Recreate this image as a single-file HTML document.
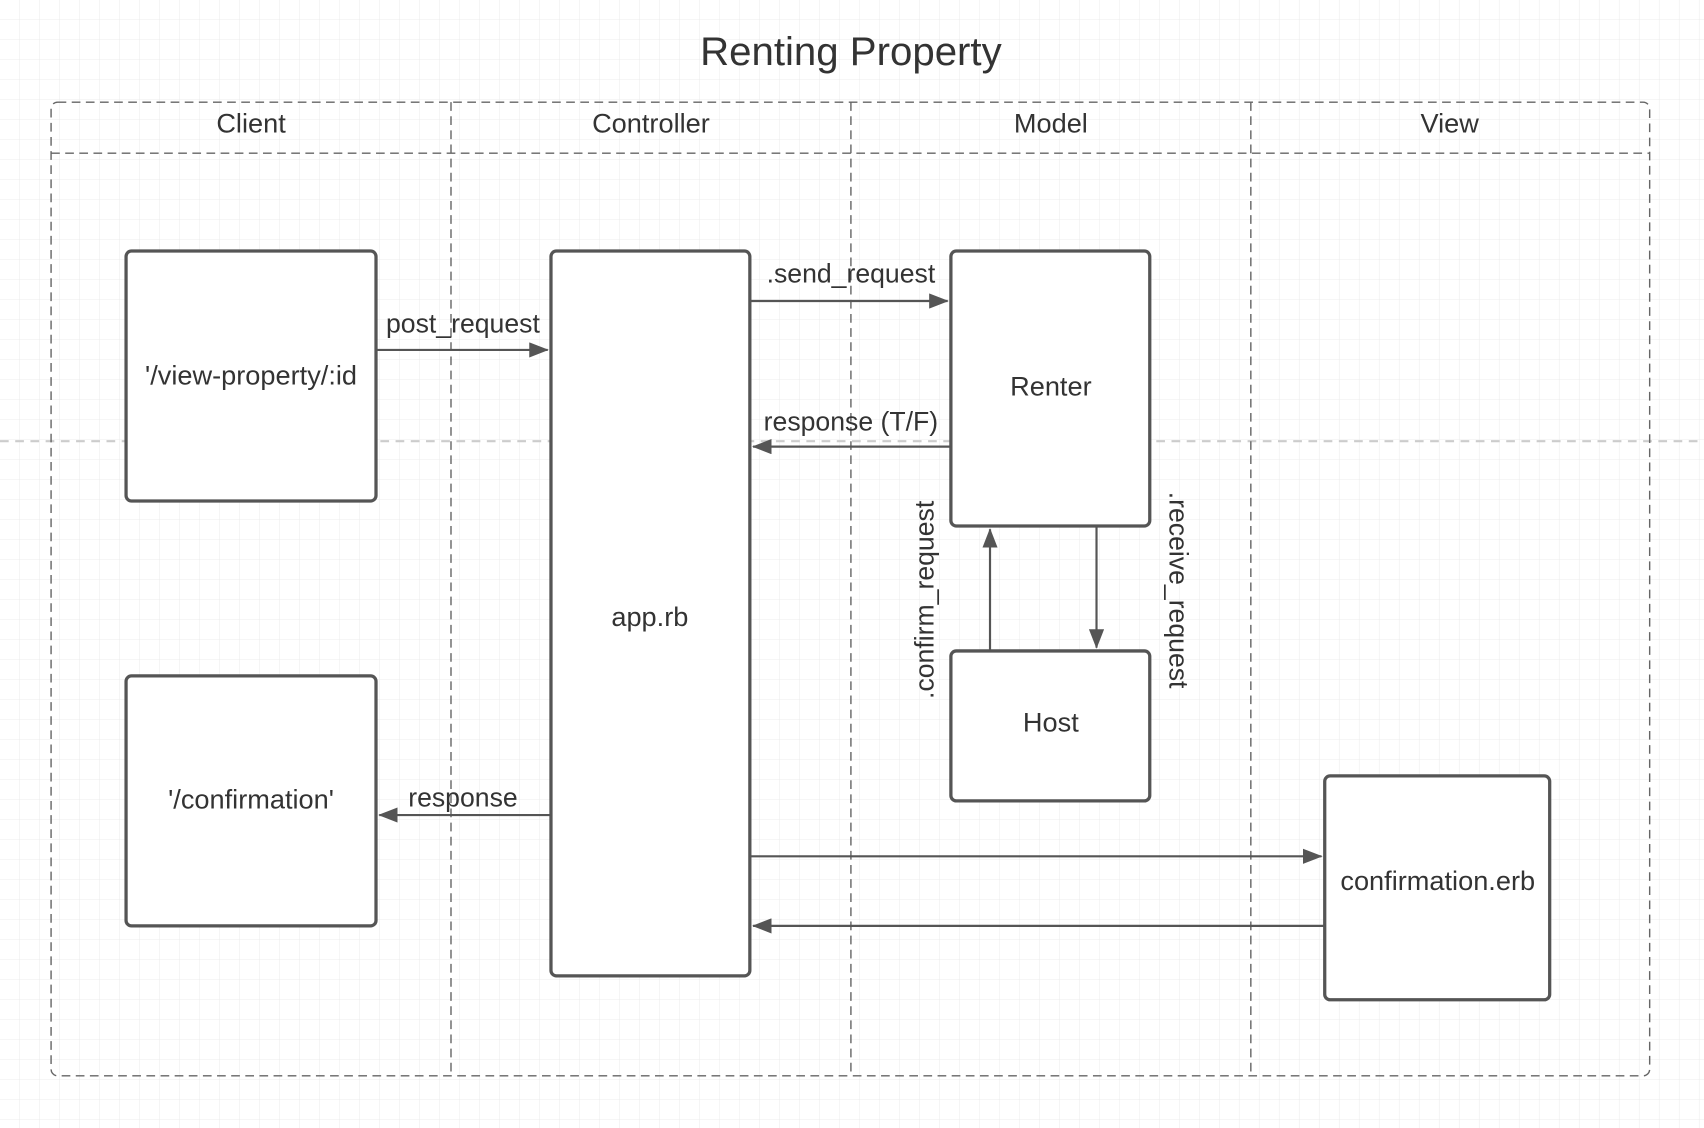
<!DOCTYPE html>
<html><head><meta charset="utf-8"><style>
html,body{margin:0;padding:0;background:#fff;}
svg{display:block;}
text{font-family:"Liberation Sans",sans-serif;fill:#333;}
</style></head><body>
<svg width="1704" height="1128" viewBox="0 0 1568 1038" preserveAspectRatio="none" xmlns="http://www.w3.org/2000/svg">
<defs>
<pattern id="g" width="18.4" height="18.4" patternUnits="userSpaceOnUse">
<path d="M18.4 0V18.4H0" fill="none" stroke="#ececec" stroke-width="1"/>
</pattern>
<marker id="a" markerWidth="18" markerHeight="14" refX="17" refY="7" orient="auto" markerUnits="userSpaceOnUse" viewBox="0 0 18 14">
<path d="M0 0L18 7L0 14z" fill="#555"/>
</marker>
</defs>
<rect width="1568" height="1038" fill="url(#g)"/>
<line x1="0" y1="406" x2="1568" y2="406" stroke="#ccc" stroke-width="2" stroke-dasharray="8,6"/>
<text x="783" y="60" font-size="37" text-anchor="middle">Renting Property</text>
<g fill="none" stroke="#666" stroke-width="1.3" stroke-dasharray="8,5">
<rect x="47" y="94" width="1471" height="896" rx="6"/>
<line x1="47" y1="141" x2="1518" y2="141"/>
<line x1="415" y1="94" x2="415" y2="990"/>
<line x1="783" y1="94" x2="783" y2="990"/>
<line x1="1151" y1="94" x2="1151" y2="990"/>
</g>
<g font-size="25" text-anchor="middle">
<text x="231" y="122">Client</text>
<text x="599" y="122">Controller</text>
<text x="967" y="122">Model</text>
<text x="1334" y="122">View</text>
</g>
<g fill="#fff" stroke="#555" stroke-width="3">
<rect x="116" y="231" width="230" height="230" rx="5"/>
<rect x="116" y="622" width="230" height="230" rx="5"/>
<rect x="507" y="231" width="183" height="667" rx="5"/>
<rect x="875" y="231" width="183" height="253" rx="5"/>
<rect x="875" y="599" width="183" height="138" rx="5"/>
<rect x="1219" y="714" width="207" height="206" rx="5"/>
</g>
<g font-size="25" text-anchor="middle">
<text x="231" y="354">'/view-property/:id</text>
<text x="231" y="744">'/confirmation'</text>
<text x="598" y="576">app.rb</text>
<text x="967" y="364">Renter</text>
<text x="967" y="673">Host</text>
<text x="1323" y="819">confirmation.erb</text>
</g>
<g stroke="#555" stroke-width="2" marker-end="url(#a)">
<line x1="346" y1="322" x2="504" y2="322"/>
<line x1="690" y1="277" x2="872" y2="277"/>
<line x1="875" y1="411" x2="693" y2="411"/>
<line x1="911" y1="599" x2="911" y2="487"/>
<line x1="1009" y1="484" x2="1009" y2="596"/>
<line x1="507" y1="750" x2="349" y2="750"/>
<line x1="690" y1="788" x2="1216" y2="788"/>
<line x1="1219" y1="852" x2="693" y2="852"/>
</g>
<g font-size="24.5" text-anchor="middle">
<text x="426" y="306">post_request</text>
<text x="783" y="260">.send_request</text>
<text x="783" y="396">response (T/F)</text>
<text x="426" y="742">response</text>
<text transform="translate(859,552) rotate(-90)">.confirm_request</text>
<text transform="translate(1076,543) rotate(90)">.receive_request</text>
</g>
</svg>
</body></html>
